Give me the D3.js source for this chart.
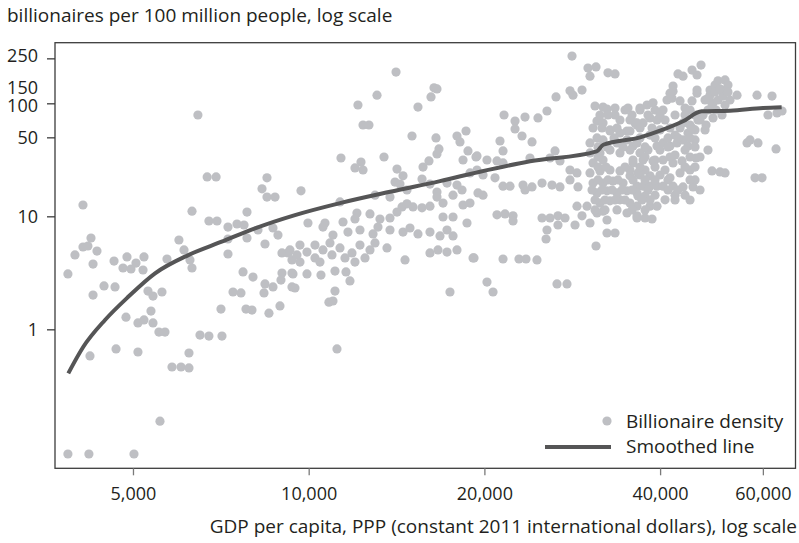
<!DOCTYPE html>
<html>
<head>
<meta charset="utf-8">
<script src="https://cdn.jsdelivr.net/npm/d3@7"></script>
<style>
  body { margin: 0; background: #fff; }
  svg text { font-family: "Open Sans", "Noto Sans", sans-serif; fill: #231f20; }
</style>
</head>
<body>
<svg id="chart" width="799" height="543"></svg>
<script>
// Axis tick values
const xTickValues = [5000, 10000, 20000, 40000, 60000];
const yTickValues = [1, 10, 50, 100, 150, 250];

// Country-year observations: [GDP per capita (PPP, 2011 $), billionaires per 100 million people]
const points = [
  [6460,78.8],[6700,22.3],[6940,22.3],[8483,21.9],[8318,17.5],[8483,14.8],[8756,14.8],[4105,12.6],[6311,11.1],[7840,10.9],
  [6747,9.09],[6965,9.09],[7273,8.04],[7536,8.55],[7748,8.38],[8187,7.57],[8687,7.88],[8859,6.83],[7840,6.43],[7273,6.30],
  [8417,5.69],[4237,6.43],[4105,5.35],[4186,5.46],[4338,4.93],[3977,4.55],[4271,3.78],[3868,3.09],[5994,6.17],[6115,5.04],
  [6261,4.11],[6311,3.49],[5718,4.19],[5222,4.37],[4883,4.37],[4640,4.02],[4807,3.49],[4961,3.42],[5060,3.86],[5202,3.35],
  [7273,4.64],[7718,3.22],[8028,2.90],[9000,4.74],[9215,4.74],[9362,4.11],[9000,3.15],[9362,3.15],[8965,2.73],[8417,2.52],
  [8687,2.37],[8384,2.10],[9362,2.37],[7419,2.14],[7656,2.10],[7075,1.51],[7809,1.51],[7996,1.48],[8549,1.39],[8929,1.61],
  [4460,2.42],[4658,2.37],[4271,2.01],[5305,2.18],[5411,1.97],[5606,2.14],[5368,1.45],[4864,1.28],[5099,1.14],[5222,1.21],
  [5411,1.14],[5539,0.946],[5673,0.946],[6513,0.890],[6747,0.872],[7103,0.872],[4677,0.670],[5099,0.630],[4220,0.581],[6236,0.617],
  [5832,0.464],[6043,0.464],[6236,0.455],[5562,0.154],[3868,0.0788],[4202,0.0788],[5020,0.0788],
  [14113,189],[16395,137],[16589,134],[16202,114],[13093,118],[12145,96.6],[15390,92.7],[12390,64.3],[12684,64.3],[15032,51.4],
  [16524,49.4],[17951,51.4],[18601,56.9],[18165,45.5],[18746,37.9],[19349,33.5],[16718,39.5],[16589,35.6],[16071,30.9],[15699,27.3],
  [11359,32.8],[13460,33.5],[12292,30.2],[12003,26.8],[12390,25.7],[14168,26.2],[14508,22.8],[18383,31.5],[19425,25.7],[9701,16.8],
  [11314,13.4],[14058,20.1],[14336,19.3],[14737,17.1],[15637,21.4],[16137,19.3],[16589,16.4],[17257,19.7],[17951,18.9],[18310,17.1],
  [12990,15.4],[13782,14.8],[16589,14.8],[16988,13.1],[17672,15.4],[18383,12.6],[18896,13.1],[19501,16.1],
  [9971,8.73],[10664,8.73],[11450,8.91],[12097,10.7],[12003,9.47],[12736,10.5],[13248,9.47],[13782,9.66],[14168,10.9],[14451,12.1],
  [14737,12.9],[15092,12.1],[15637,11.9],[16137,12.3],[16988,9.86],[17672,9.86],[18674,8.73],
  [10580,8.04],[11006,6.83],[11676,7.26],[12243,7.57],[12889,6.98],[13144,8.04],[13782,7.57],[14508,7.26],[14913,7.88],[15390,6.98],
  [16137,7.26],[16787,6.70],[17257,7.57],[17672,6.70],
  [9288,5.04],[9548,4.55],[9933,4.83],[10252,4.28],[10580,5.04],[10963,4.55],[11314,5.25],[11862,4.74],[12243,5.57],[12736,5.04],
  [12990,5.81],[13619,5.25],[16137,4.74],[16654,5.04],[17257,4.83],[17951,5.04],[19123,4.28],[14623,4.11],
  [9662,5.57],[10252,5.57],[10876,5.81],[11540,4.28],[12003,3.94],[12488,4.28],[10455,3.94],[9662,3.94],
  [9399,3.09],[9933,3.09],[10497,3.02],[11094,3.28],[11586,3.22],[11768,2.68],[9474,2.32],[11094,2.18],[10831,1.74],[11006,1.78],
  [17462,2.14],[11181,0.670],
  [28258,262],[30096,205],[31064,210],[30336,174],[32567,186],[33484,182],[26530,114],[28034,129],[29396,131],[28370,118],
  [21610,78.8],[22569,69.7],[23476,75.6],[22569,59.3],[23200,51.4],[24708,74.2],[25603,85.5],[30943,94.7],[31936,92.7],[32441,89.1],
  [31185,69.7],[31936,67.0],[32827,56.9],[21270,46.4],[21525,37.9],[24134,45.5],[26426,37.9],[19425,34.2],[20206,31.5],[21019,30.9],
  [21525,29.7],[23942,32.8],[25908,32.8],[26950,30.9],[18896,24.2],[19892,23.2],[20856,21.9],[28034,25.7],[28819,24.2],[21525,18.5],
  [22126,18.5],[23292,18.9],[24134,18.2],[23476,17.1],[25105,19.7],[26115,18.9],[26950,18.2],[28034,21.0],[28931,18.2],[19892,15.4],
  [21019,10.3],[21695,10.5],[22392,10.1],[22392,9.09],[25105,9.66],[25908,9.66],[26737,10.1],[27489,9.66],[26737,8.38],[25603,7.57],
  [25504,6.30],[28819,12.3],[29980,12.3],[29396,10.1],[28595,8.38],[31185,10.7],[31936,11.1],[32441,9.28],[30336,8.73],[32441,7.12],
  [33484,7.12],[35104,56.9],[36232,67.0],
  [19198,4.28],[21525,4.19],[22923,4.19],[23568,4.19],[24612,4.11],[31064,5.46],[20206,2.62],[20692,2.14],[26633,2.52],[27705,2.52],
  [47009,218],[45370,197],[46270,178],[42926,182],[43788,174],[54181,118],[58629,118],[62209,116],[61225,78.8],[63443,82.1],
  [64712,85.5],[56361,44.6],[58857,44.6],[57032,47.4],[63196,39.5],[48320,38.6],[46090,32.8],[49096,25.2],[50666,24.7],[51679,24.2],
  [58173,21.9],[59802,21.9],[42094,18.5],[43788,18.2],[45550,18.2],[36517,12.3],[38439,12.3],[39515,12.3],[36517,9.66],[37691,9.66],
  [38747,9.47],
  [37987,96.6],[38900,101],[40466,87.3],[41106,107],[42094,128],[41928,111],[43269,105],[44134,90.9],[45370,105],[46270,123],
  [46270,131],[48133,109],[48706,131],[49680,145],[50265,158],[51679,161],[51071,131],[51274,116],[49290,101],[48320,87.3],
  [47384,78.8],[46450,71.2],[35522,71.2],[36517,64.3],[37395,67.0],[38439,74.2],[39515,71.2],[35948,41.9],[36952,36.4],[38134,38.6],
  [39515,41.9],[40466,44.6],[41595,41.9],[42760,44.6],[43788,47.4],[44654,41.9],[35948,29.7],[37395,31.5],[38900,30.9],[40466,31.5],
  [42094,29.7],[43615,30.9],[35522,22.8],[36952,23.2],[38439,22.8],[39986,23.2],[41595,21.9],[43269,24.2],[36517,18.5],[37395,18.5],
  [38439,18.5],[39515,18.5],[40466,18.5],[36659,15.1],[42094,142],[41595,123],
  [47758,107],[48706,118],[49680,126],[50666,134],[52287,145],[49096,96.6],[50265,107],[52287,126],[49875,87.3],[45910,58.1],
  [46822,71.2],[44654,54.6],[43788,67.0],[45010,64.3],[47758,58.1],[42427,52.4],
  [49290,74.2],[51679,96.6],[52705,107],[51071,78.8],[47946,64.3],
  [30336,44.6],[31185,49.4],[31936,47.4],[30336,36.4],[31557,36.4],[32827,38.6],[34148,36.4],[35522,38.6],[36517,44.6],[30700,29.7],
  [31936,31.5],[35948,31.5],[30336,24.2],[31557,25.2],[32827,25.7],[34148,25.2],[35522,25.7],[36659,24.2],[30700,19.7],[31936,19.7],
  [33221,20.5],[34558,19.7],[35948,21.0],[31185,16.1],[32441,16.8],[33746,16.1],[35104,16.8],[36517,16.1],[31557,13.1],[32827,13.7],
  [34148,14.0],[35522,13.1],[35104,10.7],[36517,10.1],[32827,58.1],[34148,54.6],[35522,56.9],[36517,67.0],[33746,44.6],[35104,47.4],
  [38439,52.4],[39986,58.1],[39208,31.5],[40786,25.7],[42427,34.9],[44134,38.6],[45010,25.7],[45910,21.0],[37691,25.7],[39208,15.4],
  [40786,14.0],[42427,15.4],[44134,15.4],[37691,15.1],[39986,38.6],[34148,71.2],[34831,87.3],[36952,87.3],[33484,78.8],[39208,87.3],
  [40786,71.2],[42427,78.8],[45010,87.3],[45910,47.4],
  [31557,78.8],[32567,78.8],[35806,78.8],[38134,78.8],[39986,78.8],[44134,78.8],[45910,78.8],
  [30700,60.5],[31809,60.5],[33746,60.5],[36952,60.5],[38747,60.5],[41595,60.5],[43269,60.5],[45370,60.5],
  [33352,49.4],[36952,49.4],[39208,49.4],[41266,49.4],[42926,49.4],[45010,49.4],
  [31306,41.1],[32441,41.1],[34558,41.1],[37691,41.1],[41266,41.1],[45910,41.1],
  [31306,33.5],[37691,33.5],[41595,33.5],[45010,33.5],[46822,33.5],
  [31306,27.3],[32314,27.3],[34831,27.3],[36952,27.3],[39208,27.3],[44134,27.3],[45910,27.3],
  [31306,21.0],[32567,21.0],[33878,21.0],[37691,21.0],[39208,21.0],[41266,21.0],[45010,21.0],
  [30579,17.1],[31809,17.1],[33090,17.1],[34421,17.1],[35806,17.1],[38134,17.1],[41266,17.1],[42926,17.1],[46822,17.1],
  [30943,13.95],[32188,13.95],[33484,13.95],[34831,13.95],[37248,13.95],[38439,13.95],[42427,13.95],[45010,13.95],
  [30943,11.4],[32188,11.4],[33746,11.4],[35806,11.4],[37691,11.4],
  [33484,90.9],[35241,90.9],[36952,90.9]
];

// Smoothed fit through the observations
const smoothGdp     = [3874, 4111, 4478, 4908, 5455, 6219, 7096, 8091, 9474, 11316, 13785, 16787, 19654, 23944, 31145, 31975, 36970, 40450, 43780, 47130, 52700, 60040, 64610];
const smoothDensity = [0.408, 0.701, 1.21, 1.94, 3.13, 4.54, 5.96, 7.83, 10.26, 13.1, 16.5, 20.5, 24.8, 30.7, 37.6, 43.0, 50.0, 58.4, 69.3, 84.9, 86.0, 90.9, 92.3];

const svg = d3.select("#chart");
const plot = { left: 55, right: 795.5, top: 42.7, bottom: 468.3 };

const x = d3.scaleLog().domain([3676, 68240]).range([plot.left, plot.right]);
const y = d3.scaleLog().domain([0.0589, 343.9]).range([plot.bottom, plot.top]);

const dotColor = "#bebfc3";
const lineColor = "#555556";
const frameColor = "#3c3c3c";
const textSize = 19;
const tickSize = 18;

// Points
svg.append("g")
  .selectAll("circle")
  .data(points)
  .join("circle")
  .attr("cx", d => x(d[0]))
  .attr("cy", d => y(d[1]))
  .attr("r", 4.6)
  .attr("fill", dotColor);

// Smoothed line
const smooth = smoothGdp.map((g, i) => [g, smoothDensity[i]]);
svg.append("path")
  .datum(smooth)
  .attr("fill", "none")
  .attr("stroke", lineColor)
  .attr("stroke-width", 4)
  .attr("d", d3.line().x(d => x(d[0])).y(d => y(d[1])).curve(d3.curveMonotoneX));

// Frame
svg.append("rect")
  .attr("x", plot.left).attr("y", plot.top)
  .attr("width", plot.right - plot.left).attr("height", plot.bottom - plot.top)
  .attr("fill", "none").attr("stroke", frameColor).attr("stroke-width", 1.3);

// Y axis
const yAxis = svg.append("g")
  .attr("transform", `translate(${plot.left},0)`)
  .call(d3.axisLeft(y).tickValues(yTickValues).tickFormat(d3.format("d")).tickSize(8).tickPadding(9));
yAxis.select(".domain").remove();
yAxis.selectAll(".tick line").attr("stroke", frameColor).attr("stroke-width", 1.3);
yAxis.selectAll(".tick text")
  .attr("font-size", tickSize)
  .attr("fill", "#231f20")
  .style("font-family", '"Open Sans", sans-serif');
// crowded labels at the top of the scale are nudged apart; 150 carries no tick mark
yAxis.selectAll(".tick").filter(d => d === 250).select("text").attr("y", -3);
yAxis.selectAll(".tick").filter(d => d === 150).select("text").attr("y", 4);
yAxis.selectAll(".tick").filter(d => d === 100).select("text").attr("y", 2);
yAxis.selectAll(".tick").filter(d => d === 150).select("line").remove();

// X axis
const xAxis = svg.append("g")
  .attr("transform", `translate(0,${plot.bottom})`)
  .call(d3.axisBottom(x).tickValues(xTickValues).tickFormat(d3.format(",")).tickSize(7).tickPadding(12));
xAxis.select(".domain").remove();
xAxis.selectAll(".tick line").attr("stroke", "#7a7a7a").attr("stroke-width", 1.3);
xAxis.selectAll(".tick text")
  .attr("font-size", tickSize)
  .attr("fill", "#231f20")
  .style("font-family", '"Open Sans", sans-serif');

// Titles
svg.append("text")
  .attr("x", 7).attr("y", 22)
  .attr("font-size", textSize)
  .text("billionaires per 100 million people, log scale");

svg.append("text")
  .attr("x", 797).attr("y", 533)
  .attr("text-anchor", "end")
  .attr("font-size", textSize)
  .text("GDP per capita, PPP (constant 2011 international dollars), log scale");

// Legend
const legend = svg.append("g");
legend.append("circle").attr("cx", 607).attr("cy", 421).attr("r", 4.6).attr("fill", dotColor);
legend.append("text").attr("x", 626).attr("y", 428).attr("font-size", textSize).text("Billionaire density");
legend.append("line").attr("x1", 545).attr("x2", 611).attr("y1", 447).attr("y2", 447)
  .attr("stroke", lineColor).attr("stroke-width", 4);
legend.append("text").attr("x", 626).attr("y", 453).attr("font-size", textSize).text("Smoothed line");
</script>
</body>
</html>
